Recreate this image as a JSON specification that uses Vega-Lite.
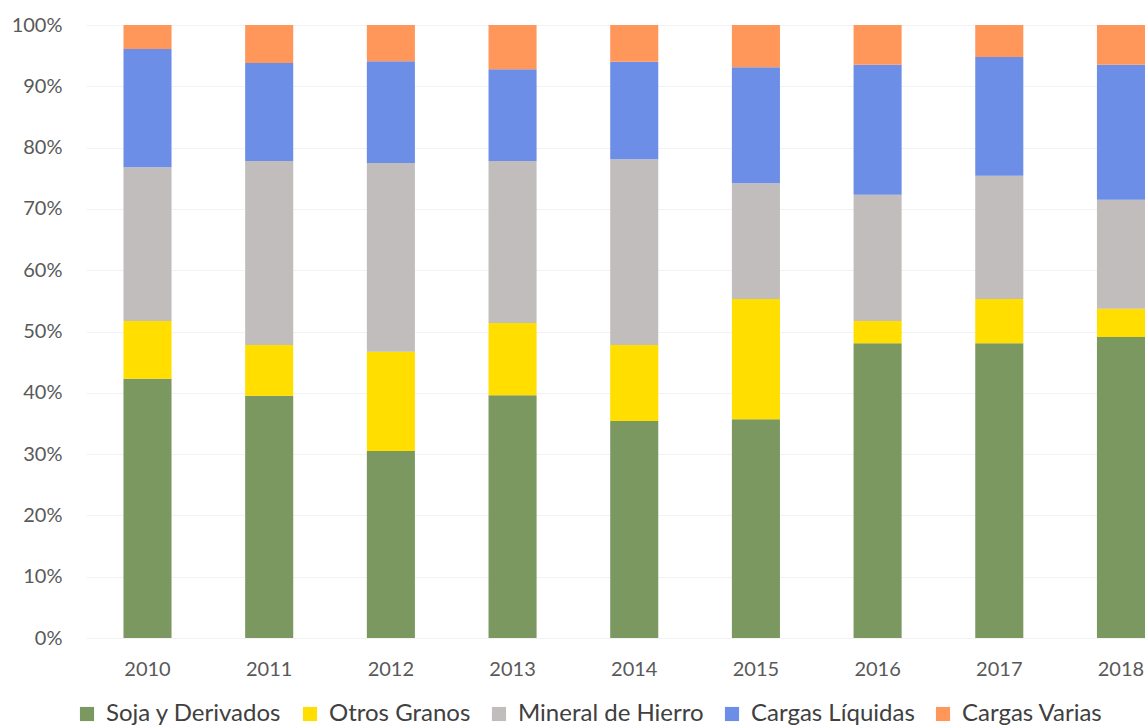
{
  "$schema": "https://vega.github.io/schema/vega-lite/v6.json",
  "autosize": "none",
  "width": 1059,
  "height": 613,
  "padding": {"left": 86, "top": 25, "right": 0, "bottom": 90},
  "background": "white",
  "config": {"view": {"stroke": null}, "font": "Lato"},
  "data": {"values": [
    {"year": "2010", "cat": "Soja y Derivados", "o": 1, "v": 42.3},
    {"year": "2010", "cat": "Otros Granos", "o": 2, "v": 9.4},
    {"year": "2010", "cat": "Mineral de Hierro", "o": 3, "v": 25.1},
    {"year": "2010", "cat": "Cargas Líquidas", "o": 4, "v": 19.3},
    {"year": "2010", "cat": "Cargas Varias", "o": 5, "v": 3.9},
    {"year": "2011", "cat": "Soja y Derivados", "o": 1, "v": 39.5},
    {"year": "2011", "cat": "Otros Granos", "o": 2, "v": 8.3},
    {"year": "2011", "cat": "Mineral de Hierro", "o": 3, "v": 30.0},
    {"year": "2011", "cat": "Cargas Líquidas", "o": 4, "v": 16.0},
    {"year": "2011", "cat": "Cargas Varias", "o": 5, "v": 6.2},
    {"year": "2012", "cat": "Soja y Derivados", "o": 1, "v": 30.5},
    {"year": "2012", "cat": "Otros Granos", "o": 2, "v": 16.2},
    {"year": "2012", "cat": "Mineral de Hierro", "o": 3, "v": 30.8},
    {"year": "2012", "cat": "Cargas Líquidas", "o": 4, "v": 16.6},
    {"year": "2012", "cat": "Cargas Varias", "o": 5, "v": 5.9},
    {"year": "2013", "cat": "Soja y Derivados", "o": 1, "v": 39.6},
    {"year": "2013", "cat": "Otros Granos", "o": 2, "v": 11.8},
    {"year": "2013", "cat": "Mineral de Hierro", "o": 3, "v": 26.4},
    {"year": "2013", "cat": "Cargas Líquidas", "o": 4, "v": 15.0},
    {"year": "2013", "cat": "Cargas Varias", "o": 5, "v": 7.2},
    {"year": "2014", "cat": "Soja y Derivados", "o": 1, "v": 35.4},
    {"year": "2014", "cat": "Otros Granos", "o": 2, "v": 12.4},
    {"year": "2014", "cat": "Mineral de Hierro", "o": 3, "v": 30.3},
    {"year": "2014", "cat": "Cargas Líquidas", "o": 4, "v": 15.9},
    {"year": "2014", "cat": "Cargas Varias", "o": 5, "v": 6.0},
    {"year": "2015", "cat": "Soja y Derivados", "o": 1, "v": 35.7},
    {"year": "2015", "cat": "Otros Granos", "o": 2, "v": 19.6},
    {"year": "2015", "cat": "Mineral de Hierro", "o": 3, "v": 18.9},
    {"year": "2015", "cat": "Cargas Líquidas", "o": 4, "v": 18.9},
    {"year": "2015", "cat": "Cargas Varias", "o": 5, "v": 6.9},
    {"year": "2016", "cat": "Soja y Derivados", "o": 1, "v": 48.1},
    {"year": "2016", "cat": "Otros Granos", "o": 2, "v": 3.6},
    {"year": "2016", "cat": "Mineral de Hierro", "o": 3, "v": 20.6},
    {"year": "2016", "cat": "Cargas Líquidas", "o": 4, "v": 21.2},
    {"year": "2016", "cat": "Cargas Varias", "o": 5, "v": 6.5},
    {"year": "2017", "cat": "Soja y Derivados", "o": 1, "v": 48.1},
    {"year": "2017", "cat": "Otros Granos", "o": 2, "v": 7.2},
    {"year": "2017", "cat": "Mineral de Hierro", "o": 3, "v": 20.1},
    {"year": "2017", "cat": "Cargas Líquidas", "o": 4, "v": 19.4},
    {"year": "2017", "cat": "Cargas Varias", "o": 5, "v": 5.2},
    {"year": "2018", "cat": "Soja y Derivados", "o": 1, "v": 49.1},
    {"year": "2018", "cat": "Otros Granos", "o": 2, "v": 4.6},
    {"year": "2018", "cat": "Mineral de Hierro", "o": 3, "v": 17.8},
    {"year": "2018", "cat": "Cargas Líquidas", "o": 4, "v": 22.0},
    {"year": "2018", "cat": "Cargas Varias", "o": 5, "v": 6.5}
  ]},
  "mark": {"type": "bar"},
  "encoding": {
    "x": {
      "field": "year", "type": "nominal", "sort": null,
      "scale": {"paddingInner": 0.605, "paddingOuter": 0.154, "align": 1},
      "axis": {"title": null, "labelAngle": 0, "domain": false, "ticks": false, "labelFontSize": 20, "labelColor": "#595959", "labelPadding": 21, "labelFont": "Lato"}
    },
    "y": {
      "field": "v", "type": "quantitative", "stack": "normalize",
      "scale": {"domain": [0, 1]},
      "axis": {"title": null, "format": ".0%", "values": [0, 0.1, 0.2, 0.3, 0.4, 0.5, 0.6, 0.7, 0.8, 0.9, 1], "domain": false, "ticks": false, "labelFontSize": 20, "labelColor": "#595959", "labelPadding": 24, "gridColor": "#f2f2f2", "labelFont": "Lato"}
    },
    "order": {"field": "o", "type": "quantitative"},
    "color": {
      "field": "cat", "type": "nominal",
      "scale": {
        "domain": ["Soja y Derivados", "Otros Granos", "Mineral de Hierro", "Cargas Líquidas", "Cargas Varias"],
        "range": ["#7A9860", "#FFDE00", "#C0BDBC", "#6D8EE6", "#FF965A"]
      },
      "legend": {
        "title": null, "orient": "none", "direction": "horizontal",
        "legendX": -11, "legendY": 677,
        "symbolType": "square", "symbolSize": 200, "symbolStrokeWidth": 0,
        "labelFontSize": 24, "labelColor": "#404040", "labelFont": "Lato", "labelLimit": 400,
        "columnPadding": 16, "labelOffset": 7
      }
    }
  }
}
